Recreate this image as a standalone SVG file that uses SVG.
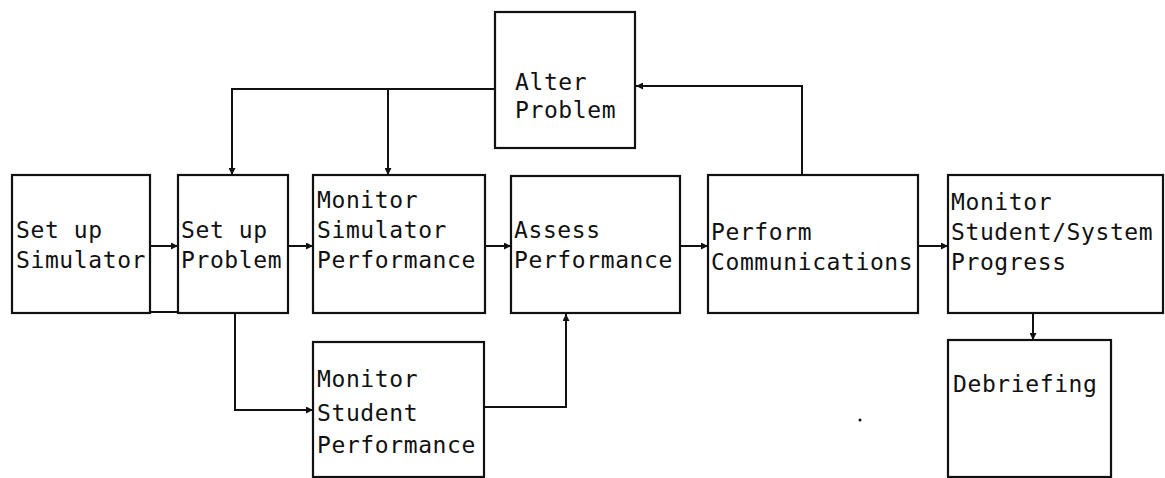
<svg xmlns="http://www.w3.org/2000/svg" width="1165" height="478" viewBox="0 0 1165 478">
<defs>
<style>
.box{fill:none;stroke:#111;stroke-width:2.2}
.t{font-family:"DejaVu Sans Mono","Liberation Mono",monospace;font-size:23px;letter-spacing:0.6px;fill:#111}
.c{fill:none;stroke:#111;stroke-width:2}
</style>
<marker id="ah" viewBox="0 0 10 10" refX="10" refY="5" markerWidth="9" markerHeight="7" markerUnits="userSpaceOnUse" orient="auto">
<path d="M0,0 L10,5 L0,10 z" fill="#111"/>
</marker>
</defs>
<rect width="1165" height="478" fill="#fff"/>
<g id="connectors">
<line class="c" x1="150" y1="246" x2="178" y2="246" marker-end="url(#ah)"/>
<line class="c" x1="288" y1="246" x2="313" y2="246" marker-end="url(#ah)"/>
<line class="c" x1="485" y1="246" x2="511" y2="246" marker-end="url(#ah)"/>
<line class="c" x1="680" y1="246" x2="708" y2="246" marker-end="url(#ah)"/>
<line class="c" x1="918" y1="246" x2="948" y2="246" marker-end="url(#ah)"/>
<line class="c" x1="150" y1="312" x2="178" y2="312"/>
<polyline class="c" points="235,313 235,410 313,410" marker-end="url(#ah)"/>
<polyline class="c" points="484,407 566,407 566,314" marker-end="url(#ah)"/>
<line class="c" x1="1033" y1="313" x2="1033" y2="340" marker-end="url(#ah)"/>
<polyline class="c" points="802,175 802,86 636,86" marker-end="url(#ah)"/>
<polyline class="c" points="495,89 232,89 232,175" marker-end="url(#ah)"/>
<line class="c" x1="388" y1="89" x2="388" y2="175" marker-end="url(#ah)"/>
<circle cx="860" cy="420" r="1.5" fill="#111"/>
</g>
<g id="alter-problem">
<rect class="box" x="495" y="12" width="140" height="136"/>
<text class="t" x="515" y="90">Alter</text>
<text class="t" x="515" y="118">Problem</text>
</g>
<g id="set-up-simulator">
<rect class="box" x="12" y="175" width="138" height="138"/>
<text class="t" x="16" y="238">Set up</text>
<text class="t" x="16" y="268">Simulator</text>
</g>
<g id="set-up-problem">
<rect class="box" x="178" y="175" width="110" height="138"/>
<text class="t" x="181" y="238">Set up</text>
<text class="t" x="181" y="268">Problem</text>
</g>
<g id="monitor-simulator-performance">
<rect class="box" x="313" y="175" width="172" height="138"/>
<text class="t" x="317" y="208">Monitor</text>
<text class="t" x="317" y="238">Simulator</text>
<text class="t" x="317" y="268">Performance</text>
</g>
<g id="assess-performance">
<rect class="box" x="511" y="176" width="169" height="137"/>
<text class="t" x="514" y="238">Assess</text>
<text class="t" x="514" y="268">Performance</text>
</g>
<g id="perform-communications">
<rect class="box" x="708" y="175" width="210" height="138"/>
<text class="t" x="711" y="240">Perform</text>
<text class="t" x="711" y="270">Communications</text>
</g>
<g id="monitor-student-system-progress">
<rect class="box" x="948" y="175" width="215" height="138"/>
<text class="t" x="951" y="210">Monitor</text>
<text class="t" x="951" y="240">Student/System</text>
<text class="t" x="951" y="270">Progress</text>
</g>
<g id="monitor-student-performance">
<rect class="box" x="313" y="342" width="171" height="135"/>
<text class="t" x="317" y="387">Monitor</text>
<text class="t" x="317" y="421">Student</text>
<text class="t" x="317" y="453">Performance</text>
</g>
<g id="debriefing">
<rect class="box" x="948" y="340" width="163" height="137"/>
<text class="t" x="953" y="392">Debriefing</text>
</g>
</svg>
